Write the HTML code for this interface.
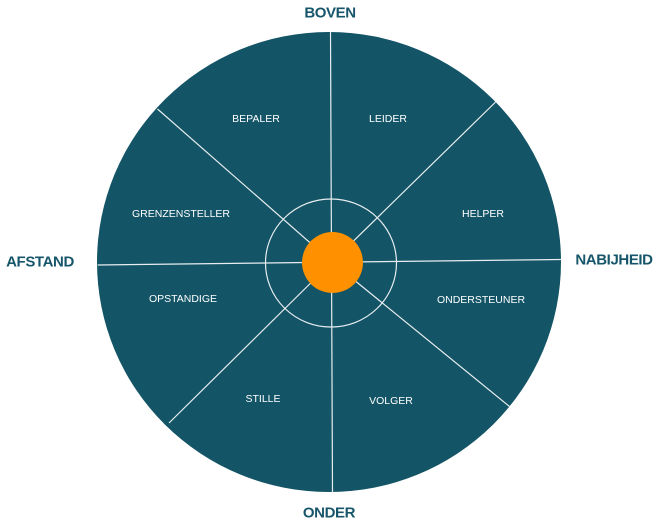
<!DOCTYPE html>
<html><head><meta charset="utf-8"><style>
html,body{margin:0;padding:0;background:#fff;}
svg{display:block;}
.i{font-family:"Liberation Sans",sans-serif;font-size:10.5px;fill:#fff;text-anchor:middle;dominant-baseline:central;}
.o{font-family:"Liberation Sans",sans-serif;font-size:15px;font-weight:600;letter-spacing:-0.4px;fill:#17566a;text-anchor:middle;dominant-baseline:central;}
</style></head><body>
<svg width="657" height="530" viewBox="0 0 657 530" xmlns="http://www.w3.org/2000/svg">
<ellipse cx="329" cy="262" rx="232" ry="230" fill="#135466"/>
<g stroke="#e8eef0" stroke-width="1.2" fill="none">
<line x1="330.5" y1="32" x2="332.5" y2="492"/>
<line x1="97.7" y1="265" x2="561" y2="259.5"/>
<line x1="157.5" y1="109" x2="332" y2="262"/>
<line x1="495.6" y1="102" x2="332" y2="262"/>
<line x1="169" y1="423" x2="332" y2="262"/>
<line x1="509.5" y1="406.5" x2="332" y2="262"/>
<ellipse cx="331" cy="263" rx="65.5" ry="64"/>
</g>
<circle cx="332.5" cy="262.5" r="30.5" fill="#ff9100"/>
<text class="i" x="256" y="119">BEPALER</text>
<text class="i" x="388" y="119">LEIDER</text>
<text class="i" x="181" y="214">GRENZENSTELLER</text>
<text class="i" x="483" y="214">HELPER</text>
<text class="i" x="183" y="299">OPSTANDIGE</text>
<text class="i" x="481" y="300">ONDERSTEUNER</text>
<text class="i" x="263" y="399">STILLE</text>
<text class="i" x="391" y="401">VOLGER</text>
<text class="o" x="330" y="13">BOVEN</text>
<text class="o" x="40" y="262">AFSTAND</text>
<text class="o" x="614" y="260">NABIJHEID</text>
<text class="o" x="329" y="513">ONDER</text>
</svg>
</body></html>
